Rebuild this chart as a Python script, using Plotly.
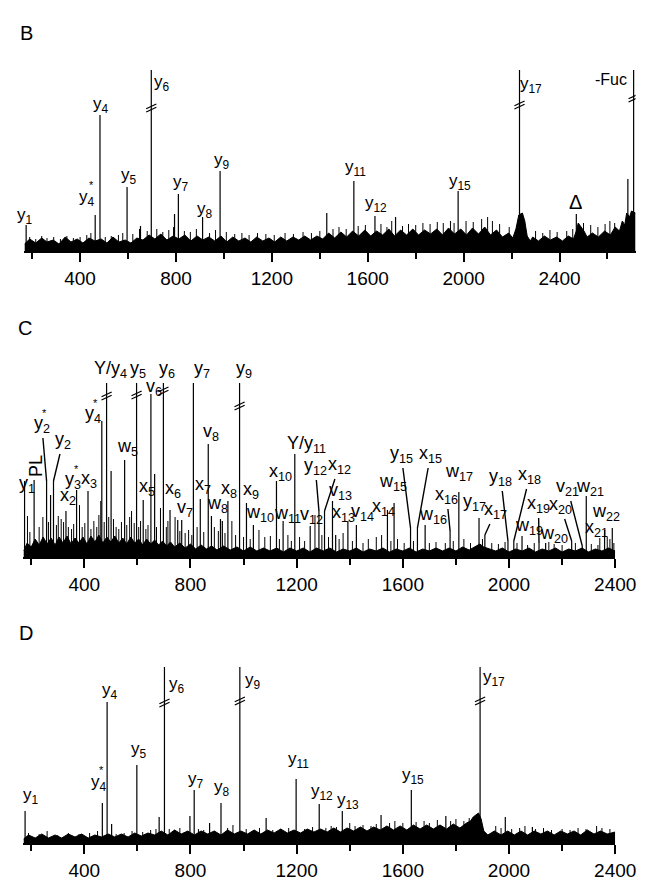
import plotly.graph_objects as go

W, H = 665, 882
FONT = "Liberation Sans, Arial, sans-serif"

# ---------------- Panel B ----------------
b_peak_mz = [175, 463, 483, 596, 652, 697, 794, 810, 911, 984, 1429, 1542, 1630, 1716, 1977, 2233, 2470, 2685, 2709]
b_peak_int = [26, 36, 136, 64, 25, 181, 37, 57, 34, 80, 38, 70, 35, 34, 60, 181, 37, 72, 181]
b_noise_mz = [190, 215, 240, 262, 290, 318, 345, 372, 400, 428, 445, 505, 530, 560, 578, 620, 648, 680, 720, 745,
              770, 790, 835, 860, 885, 940, 965, 1010, 1045, 1075, 1105, 1140, 1175, 1210, 1255, 1290, 1330, 1365,
              1400, 1455, 1480, 1510, 1560, 1590, 1655, 1680, 1700, 1745, 1770, 1800, 1830, 1860, 1890, 1915, 1945,
              1960, 2010, 2040, 2075, 2100, 2120, 2150, 2190, 2300, 2330, 2360, 2390, 2430, 2455, 2500, 2530, 2560,
              2590, 2610, 2630]
b_noise_int = [14, 12, 15, 13, 14, 12, 15, 13, 14, 16, 18, 14, 15, 16, 18, 17, 22, 20, 22, 19,
               21, 24, 20, 19, 22, 18, 21, 19, 17, 18, 16, 18, 17, 16, 18, 17, 19, 18,
               20, 22, 24, 22, 25, 26, 27, 24, 30, 25, 27, 26, 28, 27, 29, 28, 30,
               28, 30, 29, 32, 34, 30, 27, 24, 20, 18, 21, 19, 20, 22, 28, 26, 24,
               27, 30, 28]
b_base_mz = [168, 190, 215, 240, 262, 288, 312, 338, 362, 388, 412, 437, 462, 488, 512, 537, 562, 588, 612, 637,
             662, 688, 712, 737, 762, 788, 812, 837, 862, 888, 912, 937, 962, 988,
             1012, 1037, 1062, 1088, 1112, 1137, 1162, 1188, 1212, 1237, 1262, 1288, 1312, 1337, 1362, 1388,
             1412, 1437, 1462, 1488, 1512, 1537, 1562, 1588, 1612, 1637, 1662, 1688, 1712, 1737, 1762, 1788,
             1812, 1837, 1862, 1888, 1912, 1937, 1962, 1988, 2012, 2037, 2062, 2088, 2112, 2137, 2162, 2188,
             2205, 2218, 2230, 2245, 2255, 2265, 2278,
             2288, 2312, 2337, 2362, 2388, 2412, 2437, 2458, 2470, 2478, 2490, 2502, 2515,
             2537, 2562, 2588, 2612, 2632, 2650, 2662, 2672, 2680, 2692, 2700, 2717]
b_base_int = [7, 12, 8, 13, 9, 11, 7, 14, 9, 12, 8, 13, 10, 12, 8, 14, 9, 11, 8, 13,
              11, 16, 12, 17, 11, 15, 12, 16, 10, 15, 11, 14, 10, 15,
              9, 14, 10, 13, 9, 14, 10, 13, 9, 14, 10, 14, 11, 15, 11, 15,
              12, 18, 13, 19, 14, 20, 15, 21, 15, 20, 16, 22, 15, 21, 16, 22,
              16, 21, 17, 22, 16, 23, 17, 22, 16, 23, 17, 24, 16, 21, 14, 18,
              13, 22, 36, 38, 30, 15, 10,
              14, 10, 15, 11, 14, 10, 15, 12, 20, 28, 24, 20, 14,
              18, 14, 20, 16, 24, 20, 30, 26, 38, 34, 40, 38]
b_break_mz = [697, 2233, 2709]
b_labels = ["y<sub>1</sub>", "y<sub>4</sub>", "y<sub>4</sub>", "y<sub>5</sub>", "y<sub>6</sub>", "y<sub>7</sub>",
            "y<sub>8</sub>", "y<sub>9</sub>", "y<sub>11</sub>", "y<sub>12</sub>", "y<sub>15</sub>", "y<sub>17</sub>",
            "Δ", "-Fuc", "*"]

# ---------------- Panel C ----------------
c_peak_mz = [175, 211, 258, 273, 284, 331, 371, 414, 466, 484, 501, 552, 597, 622, 651, 665, 698, 723, 752, 767,
             811, 837, 867, 879, 913, 920, 941, 985, 1011, 1037, 1124, 1149, 1193, 1251, 1284, 1305, 1335, 1347,
             1393, 1425, 1542, 1567, 1629, 1655, 1684, 1778, 1811, 1887, 1909, 1996, 2018, 2049, 2113, 2138,
             2236, 2276, 2291, 2360, 2389]
c_peak_int = [76, 77, 76, 62, 76, 46, 67, 66, 136, 174, 86, 97, 174, 57, 163, 83, 174, 47, 37, 37,
              174, 58, 113, 41, 38, 36, 56, 174, 54, 32, 76, 36, 103, 31, 46, 46, 56, 22,
              36, 32, 47, 54, 29, 29, 32, 26, 65, 39, 22, 16, 16, 21, 14, 14,
              16, 11, 61, 27, 29]
c_noise_mz = [186, 195, 230, 244, 265, 295, 302, 313, 322, 340, 352, 360, 382, 392, 402, 425, 436, 447, 455, 462,
              475, 492, 510, 520, 530, 540, 560, 571, 578, 588, 605, 612, 632, 640, 672, 687, 709, 715, 742, 760,
              780, 793, 805, 825, 850, 890, 905, 930, 956, 970, 1000, 1025, 1058, 1080, 1101, 1135, 1167, 1180,
              1211, 1230, 1269, 1295, 1320, 1360, 1375, 1410, 1450, 1470, 1500, 1520, 1555, 1580, 1605, 1640,
              1700, 1725, 1760, 1790, 1830, 1855, 1900, 1935, 1960, 1985, 2030, 2070, 2095, 2150, 2170, 2200,
              2250, 2310, 2335, 2342, 2370, 2380, 2395]
c_noise_int = [41, 25, 30, 40, 35, 32, 41, 38, 35, 30, 28, 33, 52, 30, 34, 28, 36, 30, 42, 56,
               35, 40, 38, 30, 28, 35, 32, 40, 46, 34, 30, 36, 28, 32, 30, 49, 30, 36, 40, 26,
               24, 27, 22, 30, 25, 30, 26, 24, 36, 22, 20, 18, 27, 20, 21, 18, 22, 16,
               20, 16, 42, 22, 20, 18, 24, 16, 14, 18, 20, 22, 16, 18, 14, 16,
               14, 15, 14, 16, 18, 14, 18, 14, 13, 15, 14, 12, 14, 15, 13, 12,
               14, 13, 12, 19, 20, 18, 14]
c_base_mz = [171, 185, 200, 215, 230, 245, 260, 275, 290, 305, 320, 335, 350, 365, 380, 395, 410, 425, 440, 455,
             470, 485, 500, 515, 530, 545, 560, 575, 590, 605, 620, 635, 650, 665, 680, 695, 710, 725, 740, 760,
             780, 800, 820, 840, 860, 880, 900, 925, 950, 975, 1000, 1025, 1050, 1075, 1100, 1125, 1150, 1175,
             1200, 1225, 1250, 1275, 1300, 1325, 1350, 1375, 1400, 1425, 1450, 1475, 1500, 1525, 1550, 1575,
             1600, 1625, 1650, 1675, 1700, 1725, 1750, 1775, 1800, 1825, 1850, 1875, 1890, 1905, 1925, 1950,
             1975, 2000, 2025, 2050, 2075, 2100, 2125, 2150, 2175, 2200, 2225, 2250, 2275, 2300, 2325, 2350,
             2375, 2400]
c_base_int = [6, 14, 10, 18, 12, 20, 13, 19, 12, 20, 14, 21, 13, 19, 14, 20, 13, 21, 15, 22,
              14, 20, 15, 21, 14, 19, 13, 20, 14, 18, 12, 18, 13, 17, 12, 16, 11, 15, 10, 14,
              9, 13, 8, 12, 8, 11, 7, 11, 7, 10, 6, 10, 6, 9, 6, 9, 5, 9,
              6, 9, 5, 9, 6, 9, 5, 8, 6, 9, 5, 8, 6, 9, 5, 8,
              6, 9, 5, 8, 6, 9, 6, 9, 6, 10, 7, 11, 13, 10, 8, 6,
              9, 5, 8, 6, 9, 5, 8, 6, 9, 5, 8, 6, 9, 5, 8, 6,
              9, 6]
c_break_mz = [484, 597, 698, 985]

# ---------------- Panel D ----------------
d_peak_mz = [177, 468, 486, 503, 598, 682, 702, 798, 814, 872, 915, 986, 1085, 1198, 1285, 1372, 1518, 1632,
             1762, 1891, 1986, 2088]
d_peak_int = [32, 40, 141, 19, 78, 26, 176, 27, 53, 20, 40, 176, 25, 64, 39, 32, 28, 53,
              27, 176, 26, 16]
d_noise_mz = [190, 230, 260, 300, 340, 380, 420, 450, 520, 550, 580, 620, 650, 670, 720, 740, 760, 830, 850, 890,
              940, 960, 1010, 1040, 1060, 1110, 1140, 1170, 1230, 1260, 1310, 1330, 1350, 1400, 1420, 1450, 1480,
              1500, 1550, 1570, 1600, 1650, 1680, 1700, 1730, 1780, 1800, 1830, 1850, 1950, 1970, 2010, 2040,
              2060, 2100, 2130, 2160, 2200, 2230, 2260, 2290, 2330, 2350, 2380]
d_noise_int = [10, 9, 12, 8, 10, 9, 10, 12, 9, 10, 12, 11, 13, 14, 14, 13, 15, 14, 13, 12,
               15, 18, 14, 13, 15, 13, 14, 15, 14, 16, 15, 17, 16, 20, 17, 18, 17,
               19, 20, 22, 20, 21, 22, 20, 23, 22, 24, 22, 25, 17, 15, 14, 15,
               17, 14, 15, 13, 14, 13, 15, 14, 17, 15, 14]
d_base_mz = [171, 190, 215, 240, 265, 290, 315, 340, 365, 390, 415, 440, 465, 490, 515, 540, 565, 590, 615, 640,
             665, 690, 715, 740, 765, 790, 815, 840, 865, 890, 915, 940, 965, 990, 1015, 1040, 1065, 1090,
             1115, 1140, 1165, 1190, 1215, 1240, 1265, 1290, 1315, 1340, 1365, 1390, 1415, 1440, 1465, 1490,
             1515, 1540, 1565, 1590, 1615, 1640, 1665, 1690, 1715, 1740, 1765, 1790, 1815, 1840, 1855, 1865,
             1875, 1885, 1895, 1905, 1920, 1945, 1970, 1995, 2020, 2045, 2070, 2095, 2120, 2145, 2170, 2195,
             2220, 2245, 2270, 2295, 2320, 2345, 2370, 2400]
d_base_int = [4, 8, 5, 9, 5, 8, 5, 9, 6, 9, 5, 8, 6, 9, 6, 9, 6, 10, 7, 10,
              8, 12, 8, 13, 9, 12, 8, 12, 9, 12, 8, 13, 9, 12, 9, 13, 9, 13,
              10, 14, 10, 13, 10, 14, 11, 14, 11, 15, 11, 15, 12, 16, 12, 16,
              13, 17, 13, 17, 13, 18, 14, 18, 14, 18, 14, 19, 15, 20, 22, 26,
              28, 30, 24, 12, 8, 12, 8, 12, 8, 12, 8, 12, 9, 12, 8, 12,
              9, 12, 8, 13, 9, 12, 9, 11]
d_break_mz = [702, 986, 1891]

# ---------------- layout helpers (positions / styles) ----------------
def px_x(x):
    return x / W

def px_y(y):
    return 1 - y / H

panels = {
    "B": dict(xdom=[17, 648], ytop=54, ybot=243, xr=[168, 2717], yr=[0, 189], letter=(19, 25)),
    "C": dict(xdom=[16, 627], ytop=349, ybot=549, xr=[171, 2400], yr=[0, 200], letter=(18, 320)),
    "D": dict(xdom=[16, 627], ytop=651, ybot=835, xr=[171, 2400], yr=[0, 184], letter=(19, 625)),
}

b_label_pos = [(170, 35), (428, 53), (489, 146), (602, 75), (743, 168), (820, 68),
               (921, 41), (994, 90), (1550, 83), (1634, 47), (1986, 69), (2282, 166),
               (2467, 49), (2616, 171), (446, 66)]

c_label_text = ["y<sub>1</sub>", "PL", "y<sub>2</sub>", "y<sub>2</sub>", "x<sub>2</sub>", "y<sub>3</sub>",
                "x<sub>3</sub>", "y<sub>4</sub>", "Y/y<sub>4</sub>", "w<sub>5</sub>", "y<sub>5</sub>",
                "x<sub>5</sub>", "v<sub>6</sub>", "y<sub>6</sub>", "x<sub>6</sub>", "v<sub>7</sub>",
                "y<sub>7</sub>", "x<sub>7</sub>", "v<sub>8</sub>", "w<sub>8</sub>", "x<sub>8</sub>",
                "y<sub>9</sub>", "x<sub>9</sub>", "w<sub>10</sub>", "x<sub>10</sub>", "w<sub>11</sub>",
                "Y/y<sub>11</sub>", "v<sub>12</sub>", "y<sub>12</sub>", "x<sub>12</sub>", "v<sub>13</sub>",
                "x<sub>13</sub>", "v<sub>14</sub>", "x<sub>14</sub>", "w<sub>15</sub>", "y<sub>15</sub>",
                "x<sub>15</sub>", "w<sub>16</sub>", "x<sub>16</sub>", "w<sub>17</sub>", "y<sub>17</sub>",
                "x<sub>17</sub>", "y<sub>18</sub>", "x<sub>18</sub>", "w<sub>19</sub>", "x<sub>19</sub>",
                "w<sub>20</sub>", "x<sub>20</sub>", "v<sub>21</sub>", "w<sub>21</sub>", "x<sub>21</sub>",
                "w<sub>22</sub>"]
# (label_m, label_h, leader peak m or None)
c_label_pos = [(184, 72, None), (218, 91, None), (240, 132, 258), (320, 116, 284), (338, 60, None),
               (356, 76, None), (418, 77, None), (432, 142, None), (500, 187, None), (563, 109, None),
               (603, 187, None), (636, 69, None), (662, 169, None), (712, 187, None), (736, 67, None),
               (778, 48, None), (843, 187, None), (847, 71, None), (876, 124, None), (902, 52, None),
               (945, 67, None), (1000, 187, None), (1029, 66, None), (1061, 43, None), (1140, 84, None),
               (1166, 42, None), (1238, 112, None), (1256, 41, None), (1270, 90, 1284), (1360, 91, 1305),
               (1367, 65, None), (1378, 43, None), (1449, 44, None), (1529, 49, None), (1562, 74, None),
               (1594, 102, 1629), (1704, 102, 1655), (1714, 41, None), (1765, 61, 1778), (1813, 84, None),
               (1870, 54, None), (1950, 46, 1909), (1969, 79, 1996), (2078, 81, 2018), (2074, 31, None),
               (2111, 52, 2113), (2169, 23, None), (2194, 51, 2236), (2220, 69, 2276), (2304, 69, None),
               (2329, 29, None), (2365, 44, None)]
c_star_pos = [(252, 144), (371, 88), (444, 154)]

d_label_text = ["y<sub>1</sub>", "y<sub>4</sub>", "y<sub>4</sub>", "y<sub>5</sub>", "y<sub>6</sub>",
                "y<sub>7</sub>", "y<sub>8</sub>", "y<sub>9</sub>", "y<sub>11</sub>", "y<sub>12</sub>",
                "y<sub>13</sub>", "y<sub>15</sub>", "y<sub>17</sub>"]
d_label_pos = [(201, 47), (455, 60), (497, 152), (606, 93), (748, 158), (821, 63), (920, 55), (1037, 162),
               (1207, 83), (1297, 51), (1394, 42), (1640, 67), (1943, 165)]
d_star_pos = [(464, 73)]

# heights of the "//" break marks on off-scale peaks
b_break_h = [143, 146, 153]
c_break_h = [161, 162, 166, 151]
d_break_h = [140, 142, 142]


def sticks(mz, inten):
    xs, ys = [], []
    for m, h in zip(mz, inten):
        xs += [m, m, None]
        ys += [0, h, None]
    return xs, ys


fig = go.Figure()

panel_data = [
    ("x", "y", b_peak_mz, b_peak_int, b_noise_mz, b_noise_int, b_base_mz, b_base_int, b_break_mz, b_break_h),
    ("x2", "y2", c_peak_mz, c_peak_int, c_noise_mz, c_noise_int, c_base_mz, c_base_int, c_break_mz, c_break_h),
    ("x3", "y3", d_peak_mz, d_peak_int, d_noise_mz, d_noise_int, d_base_mz, d_base_int, d_break_mz, d_break_h),
]

for xa, ya, pm, pi, nm, ni, bm, bi, brk, brk_h in panel_data:
    fig.add_trace(go.Scatter(x=bm, y=bi, mode="lines", fill="tozeroy", fillcolor="black",
                             line=dict(color="black", width=1), xaxis=xa, yaxis=ya,
                             hoverinfo="skip", showlegend=False))
    xs, ys = sticks(nm, ni)
    fig.add_trace(go.Scatter(x=xs, y=ys, mode="lines", line=dict(color="black", width=1),
                             xaxis=xa, yaxis=ya, showlegend=False, hoverinfo="skip"))
    xs, ys = sticks(pm, pi)
    fig.add_trace(go.Scatter(x=xs, y=ys, mode="lines", line=dict(color="black", width=1.2),
                             xaxis=xa, yaxis=ya, showlegend=False, hoverinfo="skip"))
    bx, by = [], []
    for m, h in zip(brk, brk_h):
        bx += [m, m]
        by += [h - 1.6, h + 1.6]
    fig.add_trace(go.Scatter(x=bx, y=by, mode="markers", xaxis=xa, yaxis=ya, showlegend=False,
                             hoverinfo="skip",
                             marker=dict(symbol="line-ew", size=8, angle=-25,
                                         line=dict(color="black", width=1.3))))

annotations = []
for idx, (lm, lh) in enumerate(b_label_pos):
    txt = b_labels[idx]
    size = 17
    if txt == "Δ":
        size = 20
    elif txt == "-Fuc":
        size = 16
    elif txt == "*":
        size = 11
    annotations.append(dict(x=lm, y=lh, xref="x", yref="y", text=txt, showarrow=False,
                            xanchor="center", yanchor="middle",
                            font=dict(family=FONT, size=size, color="black")))

for txt, (lm, lh, lead) in zip(c_label_text, c_label_pos):
    if txt == "PL":
        annotations.append(dict(x=lm, y=lh, xref="x2", yref="y2", text=txt, showarrow=False, textangle=-90,
                                xanchor="center", yanchor="middle",
                                font=dict(family=FONT, size=18, color="black")))
    elif lead is None:
        annotations.append(dict(x=lm, y=lh, xref="x2", yref="y2", text=txt, showarrow=False,
                                xanchor="center", yanchor="middle",
                                font=dict(family=FONT, size=18, color="black")))
    else:
        k = c_peak_mz.index(lead)
        annotations.append(dict(x=lead, y=c_peak_int[k], xref="x2", yref="y2", ax=lm, ay=lh,
                                axref="x2", ayref="y2", text=txt, showarrow=True, arrowhead=0,
                                arrowwidth=1.4, arrowcolor="black", standoff=0,
                                font=dict(family=FONT, size=18, color="black")))
for sm, sh in c_star_pos:
    annotations.append(dict(x=sm, y=sh, xref="x2", yref="y2", text="*", showarrow=False,
                            xanchor="center", yanchor="middle",
                            font=dict(family=FONT, size=11, color="black")))

for txt, (lm, lh) in zip(d_label_text, d_label_pos):
    annotations.append(dict(x=lm, y=lh, xref="x3", yref="y3", text=txt, showarrow=False,
                            xanchor="center", yanchor="middle",
                            font=dict(family=FONT, size=17, color="black")))
for sm, sh in d_star_pos:
    annotations.append(dict(x=sm, y=sh, xref="x3", yref="y3", text="*", showarrow=False,
                            xanchor="center", yanchor="middle",
                            font=dict(family=FONT, size=11, color="black")))

for name, p in panels.items():
    lx, ly = p["letter"]
    annotations.append(dict(x=px_x(lx), y=px_y(ly), xref="paper", yref="paper", text=name,
                            showarrow=False, xanchor="center", yanchor="middle",
                            font=dict(family=FONT, size=20, color="black")))


def xaxis_style(p, anchor):
    return dict(domain=[px_x(p["xdom"][0]), px_x(p["xdom"][1])], range=p["xr"], anchor=anchor,
                showline=True, linecolor="black", linewidth=2, ticks="outside", ticklen=9,
                tickwidth=2, tickcolor="black", tick0=0, dtick=400, showgrid=False, zeroline=False,
                tickfont=dict(family=FONT, size=19, color="black"),
                minor=dict(dtick=200, tick0=0, ticks="outside", ticklen=6, tickwidth=1.5,
                           tickcolor="black", showgrid=False))


def yaxis_style(p, anchor):
    return dict(domain=[px_y(p["ybot"]), px_y(p["ytop"])], range=p["yr"], anchor=anchor,
                visible=False, showgrid=False, zeroline=False)


fig.update_layout(
    width=W, height=H, margin=dict(l=0, r=0, t=0, b=0),
    paper_bgcolor="white", plot_bgcolor="white", showlegend=False,
    xaxis=xaxis_style(panels["B"], "y"), yaxis=yaxis_style(panels["B"], "x"),
    xaxis2=xaxis_style(panels["C"], "y2"), yaxis2=yaxis_style(panels["C"], "x2"),
    xaxis3=xaxis_style(panels["D"], "y3"), yaxis3=yaxis_style(panels["D"], "x3"),
    annotations=annotations,
)

fig.write_html("out.html")
